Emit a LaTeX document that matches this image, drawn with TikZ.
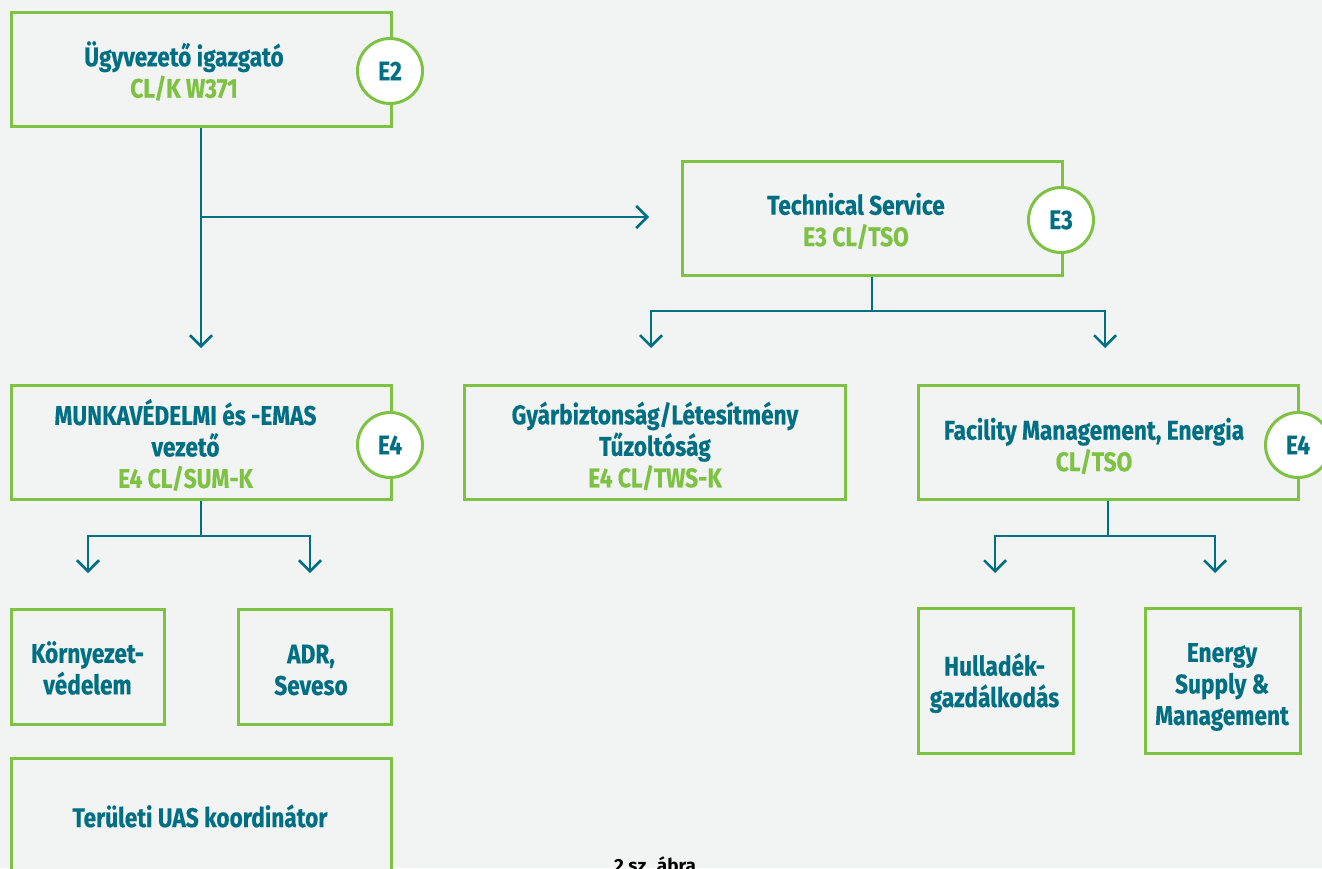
\documentclass[tikz,border=0pt]{standalone}
\usepackage{fontspec}
\setmainfont{Fira Sans}[FakeStretch=0.84, FakeBold=0.4]
\newfontfamily\capfont{Fira Sans}
\usetikzlibrary{arrows.meta}
\definecolor{bgc}{HTML}{F2F3F3}
\definecolor{lgreen}{HTML}{7DC242}
\definecolor{teal}{HTML}{006F83}
\tikzset{
  box/.style={draw=lgreen, line width=3pt, fill=bgc, inner sep=0pt},
  lbl/.style={text=teal, font=\fontsize{27}{31.5}\selectfont\bfseries, align=center, inner sep=0pt},
  lvl/.style={circle, draw=lgreen, line width=3pt, fill=white, minimum size=65pt, inner sep=0pt,
              text=teal, font=\fontsize{27}{30}\selectfont\bfseries},
  conn/.style={draw=teal, line width=2.5pt},
  arr/.style={conn, -{Straight Barb[length=11pt,width=22pt]}},
}
\newcommand{\code}[1]{\textcolor{lgreen}{#1}}
\begin{document}
\begin{tikzpicture}[x=1pt,y=-1pt]
  \fill[bgc] (0,0) rectangle (1322,868);
  \useasboundingbox (0,0) rectangle (1322,868);
  \clip (0,0) rectangle (1322,868);

  % boxes
  \node[box, minimum width=380pt, minimum height=114pt] (ceo) at (201,69) {};
  \node[box, minimum width=380pt, minimum height=114pt] (ts) at (872,218) {};
  \node[box, minimum width=380pt, minimum height=114pt] (munka) at (201,442) {};
  \node[box, minimum width=381pt, minimum height=114pt] (gyar) at (654.5,442) {};
  \node[box, minimum width=380pt, minimum height=114pt] (fac) at (1108,442) {};
  \node[box, minimum width=153pt, minimum height=115pt] (korny) at (87.5,667) {};
  \node[box, minimum width=153pt, minimum height=115pt] (adr) at (314.5,667) {};
  \node[box, minimum width=155pt, minimum height=145pt] (hull) at (995.5,680.5) {};
  \node[box, minimum width=155pt, minimum height=145pt] (energy) at (1222.5,680.5) {};
  \node[box, minimum width=380pt, minimum height=130pt] (ter) at (201,823) {};

  % level badges
  \node[lvl] (e2) at (390,71) {E2};
  \node[lvl] (e3) at (1061,220) {E3};
  \node[lvl] (e4a) at (390,445) {E4};
  \node[lvl] (e4b) at (1298,445) {E4};

  % labels
  \node[lbl] (ceo-t) at (184,71) {Ügyvezető igazgató\\\code{CL/K W371}};
  \node[lbl] (ts-t) at (856,221) {Technical Service\\\code{E3 CL/TSO}};
  \node[lbl] (munka-t) at (185.5,445) {MUNKAVÉDELMI és -EMAS\\vezető\\\code{E4 CL/SUM-K}};
  \node[lbl] (gyar-t) at (655,446) {Gyárbiztonság/Létesítmény\\Tűzoltóság\\\code{E4 CL/TWS-K}};
  \node[lbl] (fac-t) at (1094,446) {Facility Management, Energia\\\code{CL/TSO}};
  \node[lbl] (korny-t) at (87.5,668) {Környezet-\\védelem};
  \node[lbl] (adr-t) at (311,670) {ADR,\\Seveso};
  \node[lbl] (hull-t) at (994.5,683) {Hulladék-\\gazdálkodás};
  \node[lbl] (energy-t) at (1222,687) {Energy\\Supply \&\\Management};
  \node[lbl] (ter-t) at (200,816) {Területi UAS koordinátor};

  % caption
  \node[text=black, font=\capfont\fontsize{19}{24}\selectfont\bfseries, anchor=base, inner sep=0pt]
    (cap) at (655,872) {2 sz. ábra};

  % connector junctions
  \coordinate (j1) at (201,217);
  \coordinate (a-ts) at (649,217);
  \coordinate (a-munka) at (201,348);
  \coordinate (j2) at (872,311);
  \coordinate (j2l) at (651,311);
  \coordinate (j2r) at (1105,311);
  \coordinate (a-gyar) at (651,348);
  \coordinate (a-fac) at (1105,348);
  \coordinate (j3) at (201,536);
  \coordinate (j3l) at (88,536);
  \coordinate (j3r) at (310,536);
  \coordinate (a-korny) at (88,573);
  \coordinate (a-adr) at (310,573);
  \coordinate (j4) at (1108,536);
  \coordinate (j4l) at (995,536);
  \coordinate (j4r) at (1215,536);
  \coordinate (a-hull) at (995,573);
  \coordinate (a-energy) at (1215,573);

  % connectors
  \draw[arr] (ceo.south) -- (a-munka);
  \draw[arr] (j1) -- (a-ts);
  \draw[conn] (ts.south) -- (j2);
  \draw[arr] (j2) -- (j2l) -- (a-gyar);
  \draw[arr] (j2) -- (j2r) -- (a-fac);
  \draw[conn] (munka.south) -- (j3);
  \draw[arr] (j3) -- (j3l) -- (a-korny);
  \draw[arr] (j3) -- (j3r) -- (a-adr);
  \draw[conn] (fac.south) -- (j4);
  \draw[arr] (j4) -- (j4l) -- (a-hull);
  \draw[arr] (j4) -- (j4r) -- (a-energy);
\end{tikzpicture}
\end{document}
